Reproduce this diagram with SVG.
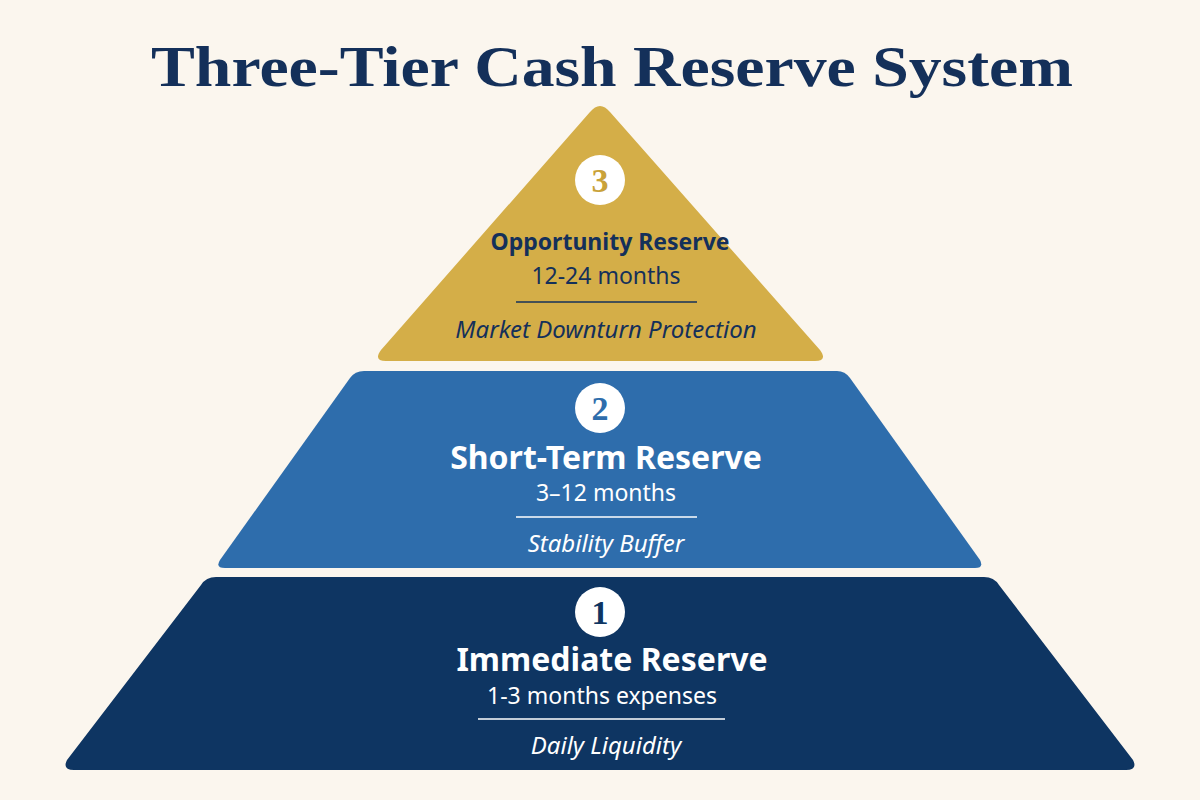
<svg xmlns="http://www.w3.org/2000/svg" width="1200" height="800" viewBox="0 0 1200 800">
<style>
.t{font-family:"Noto Sans","Open Sans",sans-serif;text-anchor:middle}
.h{font-weight:bold}
.i{font-style:italic}
.num{font-family:"Liberation Serif",serif;font-weight:bold;font-size:34px;text-anchor:middle}
</style>
<rect width="1200" height="800" fill="#FBF6EE"/>
<text x="612" y="86" font-family="Liberation Serif,serif" font-weight="bold" font-size="58" fill="#14305A" text-anchor="middle" textLength="922" lengthAdjust="spacingAndGlyphs">Three-Tier Cash Reserve System</text>
<g id="tier3">
<path d="M590,112 Q600,100 610,112 L820,350 Q828,361 815,361 L386,361 Q373,361 381,350 Z" fill="#D4AE48"/>
<circle cx="600" cy="180" r="25" fill="#fff"/>
<text class="num" x="600" y="192" fill="#C9A23A">3</text>
<text class="t h" x="610" y="250" font-size="23" fill="#14305A">Opportunity Reserve</text>
<text class="t" x="606" y="284" font-size="23" fill="#14305A">12-24 months</text>
<line x1="516" y1="302" x2="697" y2="302" stroke="#14305A" stroke-width="1.5"/>
<text class="t i" x="606" y="338" font-size="24" fill="#14305A">Market Downturn Protection</text>
</g>
<g id="tier2">
<path d="M364,371 L837,371 Q845,371 850,378 L980,560 Q984,568 975,568 L225,568 Q215,568 220,560 L350,378 Q355,371 364,371 Z" fill="#2E6DAC"/>
<circle cx="600" cy="408" r="25" fill="#fff"/>
<text class="num" x="600" y="420" fill="#2E6DAC">2</text>
<text class="t h" x="606" y="469" font-size="32" fill="#fff">Short-Term Reserve</text>
<text class="t" x="606" y="501" font-size="23" fill="#fff">3–12 months</text>
<line x1="516" y1="517" x2="697" y2="517" stroke="#fff" stroke-width="1.5"/>
<text class="t i" x="606" y="552" font-size="24" fill="#fff">Stability Buffer</text>
</g>
<g id="tier1">
<path d="M216,577 L984,577 Q994,577 999,585 L1133,760 Q1138,770 1126,770 L74,770 Q62,770 67,760 L201,585 Q206,577 216,577 Z" fill="#0E3562"/>
<circle cx="600" cy="612" r="25" fill="#fff"/>
<text class="num" x="600" y="624" fill="#0E3562">1</text>
<text class="t h" x="612" y="671" font-size="32" fill="#fff">Immediate Reserve</text>
<text class="t" x="602" y="704" font-size="23" fill="#fff">1-3 months expenses</text>
<line x1="478" y1="719" x2="725" y2="719" stroke="#fff" stroke-width="1.5"/>
<text class="t i" x="606" y="754" font-size="24" fill="#fff">Daily Liquidity</text>
</g>
<g id="connectors"/>
</svg>
